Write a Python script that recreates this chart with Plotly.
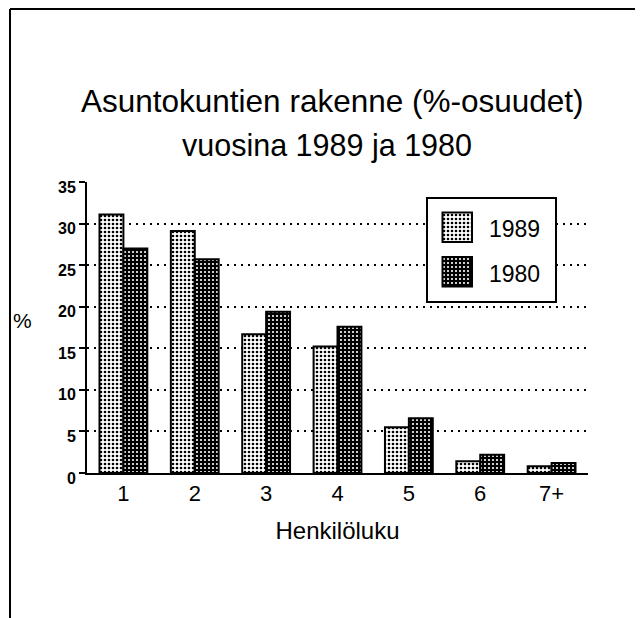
import base64
import plotly.graph_objects as go

# ---- data ----
categories = ["1", "2", "3", "4", "5", "6", "7+"]
values_1989 = [31.1, 29.1, 16.7, 15.2, 5.5, 1.4, 0.8]
values_1980 = [27.0, 25.7, 19.4, 17.6, 6.6, 2.2, 1.2]
series_names = ["1989", "1980"]
y_ticks = [0, 5, 10, 15, 20, 25, 30, 35]

title_line1 = "Asuntokuntien rakenne (%-osuudet)"
title_line2 = "vuosina 1989 ja 1980"
x_title = "Henkilöluku"
y_title = "%"

# ---- geometry (pixels); page body adds an 8px offset ----
OFF = 8
W, H = 643, 618
L, T = 87 - OFF, 182 - OFF
pw, ph = 501, 291
R = W - L - pw
B = H - T - ph


def px(x):
    return (x - OFF - L) / pw


def py(y):
    return (H - B - (y - OFF)) / ph


FONT = "Liberation Sans, Arial, Helvetica, sans-serif"

fig = go.Figure()
fig.add_bar(
    x=categories, y=values_1989, name=series_names[0],
    marker=dict(
        color="white", line=dict(color="black", width=2),
        pattern=dict(shape=".", fgcolor="black", bgcolor="white",
                     size=4, solidity=0.35, fillmode="replace"),
    ),
)
fig.add_bar(
    x=categories, y=values_1980, name=series_names[1],
    marker=dict(
        color="black", line=dict(color="black", width=2),
        pattern=dict(shape=".", fgcolor="white", bgcolor="black",
                     size=4, solidity=0.22, fillmode="replace"),
    ),
)

# legend box drawn as an svg image (box + patterned swatches); text as annotations
bw, bh = 131, 106
svg = (
    f"<svg xmlns='http://www.w3.org/2000/svg' width='{bw}' height='{bh}' viewBox='0 0 {bw} {bh}'>"
    "<defs>"
    "<pattern id='a' width='4' height='4' patternUnits='userSpaceOnUse'>"
    "<rect width='4' height='4' fill='white'/><circle cx='2' cy='2' r='1.33' fill='black'/></pattern>"
    "<pattern id='b' width='4' height='4' patternUnits='userSpaceOnUse'>"
    "<rect width='4' height='4' fill='black'/><circle cx='2' cy='2' r='1.06' fill='white'/></pattern>"
    "</defs>"
    f"<rect x='1' y='1' width='{bw-2}' height='{bh-2}' fill='white' stroke='black' stroke-width='2'/>"
    "<rect x='16.5' y='15.5' width='29.5' height='29.5' fill='url(#a)' stroke='black' stroke-width='2'/>"
    "<rect x='16.5' y='60' width='29.5' height='29.5' fill='url(#b)' stroke='black' stroke-width='2'/>"
    "</svg>"
)
src = "data:image/svg+xml;base64," + base64.b64encode(svg.encode()).decode()

fig.update_layout(
    width=W, height=H,
    margin=dict(l=L, r=R, t=T, b=B, pad=0),
    paper_bgcolor="white", plot_bgcolor="white",
    showlegend=False,
    barmode="group", bargap=0.33, bargroupgap=0,
    font=dict(family=FONT, color="black"),
    xaxis=dict(
        range=[-0.51, 6.51], showline=True, linecolor="black", linewidth=2,
        ticks="", showgrid=False, zeroline=False,
        tickfont=dict(size=22),
        title=dict(text=x_title, font=dict(size=24), standoff=17),
    ),
    yaxis=dict(
        range=[0, 35], tickvals=y_ticks, showline=True, linecolor="black", linewidth=2,
        ticks="outside", ticklen=6, tickwidth=2, tickcolor="black",
        showgrid=True, gridcolor="black", gridwidth=1.5, griddash="2px,5px",
        zeroline=False, tickfont=dict(size=16, weight="bold"),
        ticklabelshift=5, ticklabelstandoff=0,
    ),
    images=[dict(
        source=src, xref="paper", yref="paper",
        x=px(426), y=py(197), sizex=bw / pw, sizey=bh / ph,
        xanchor="left", yanchor="top", sizing="stretch", layer="above",
    )],
    shapes=[
        dict(type="line", xref="paper", yref="paper", x0=px(10), x1=px(10),
             y0=py(9), y1=py(630), line=dict(color="black", width=2)),
        dict(type="line", xref="paper", yref="paper", x0=px(10), x1=px(655),
             y0=py(9), y1=py(9), line=dict(color="black", width=2)),
    ],
    annotations=[
        dict(text=title_line1, xref="paper", yref="paper", x=px(332), y=py(101),
             xanchor="center", yanchor="middle", showarrow=False, font=dict(size=31.5)),
        dict(text=title_line2, xref="paper", yref="paper", x=px(327), y=py(145),
             xanchor="center", yanchor="middle", showarrow=False, font=dict(size=30.5)),
        dict(text=y_title, xref="paper", yref="paper", x=px(22), y=py(320),
             xanchor="center", yanchor="middle", showarrow=False, font=dict(size=21)),
        dict(text=series_names[0], xref="paper", yref="paper", x=px(487), y=py(229),
             xanchor="left", yanchor="middle", showarrow=False, font=dict(size=23)),
        dict(text=series_names[1], xref="paper", yref="paper", x=px(487), y=py(274),
             xanchor="left", yanchor="middle", showarrow=False, font=dict(size=23)),
    ],
)

fig.write_html("out.html")
